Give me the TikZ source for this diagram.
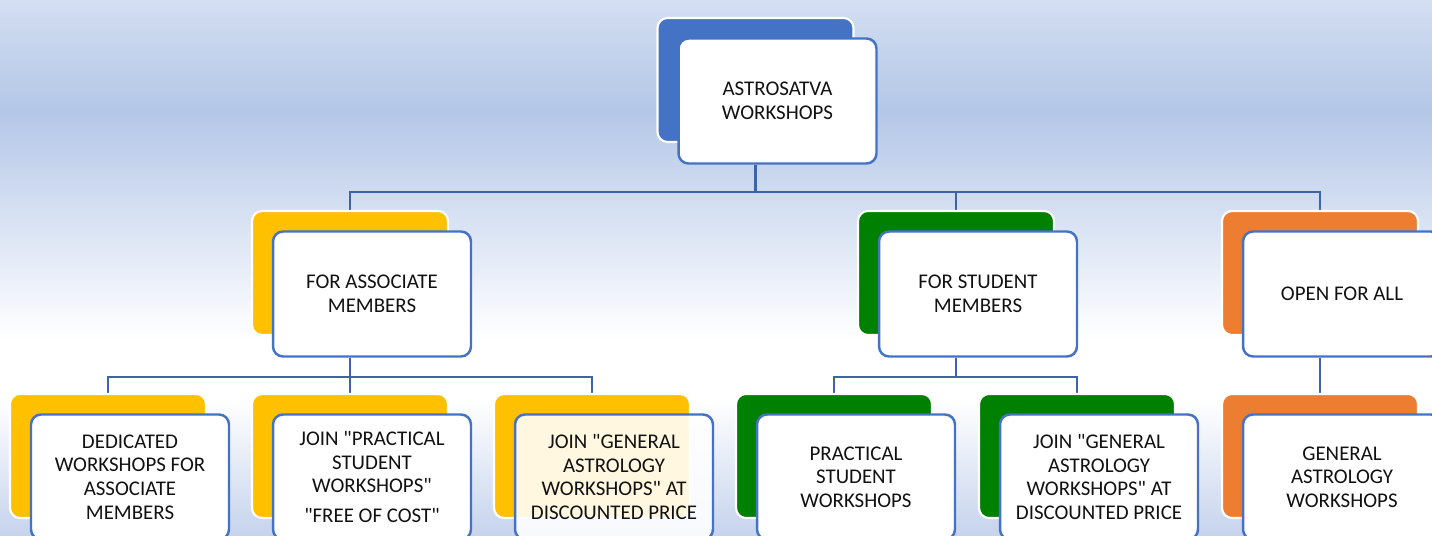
\documentclass[tikz,border=0pt]{standalone}
\usepackage{fontspec}
\setmainfont{Carlito}
\definecolor{CardBlue}{HTML}{4472C4}
\definecolor{CardGold}{HTML}{FFC000}
\definecolor{CardGreen}{HTML}{008000}
\definecolor{CardOrange}{HTML}{ED7D31}
\definecolor{LinkBlue}{HTML}{3F63A9}
\definecolor{SkyTop}{HTML}{D3DEF1}
\definecolor{SkyMid}{HTML}{B4C7E7}
\definecolor{SkyLow}{HTML}{C6D3ED}
\definecolor{InkBlack}{HTML}{111111}
\pgfdeclarelayer{bg}
\pgfsetlayers{bg,main}

\begin{document}
\begin{tikzpicture}[x=0.02cm, y=-0.02cm,
    back/.style={rounded corners=0.2cm, draw=white, line width=1.2pt,
      minimum width=3.92cm, minimum height=2.48cm},
    card/.style={rounded corners=0.2cm, draw=CardBlue, fill=white,
      line width=1.4pt, minimum width=3.96cm, minimum height=2.5cm,
      align=center, text=InkBlack, font=\fontsize{11.9}{13.4}\selectfont},
    link/.style={LinkBlue, line width=1.6pt}]
      \useasboundingbox (0,0) rectangle (1432,536);
      \clip (0,0) rectangle (1432,536);
      % Background
      \begin{pgfonlayer}{bg}
        \shade[top color=SkyTop, bottom color=SkyMid] (0,0) rectangle (1432,110);
        \shade[top color=SkyMid, bottom color=white] (0,110) rectangle (1432,340);
        \fill[white] (0,340) rectangle (1432,400);
        \shade[top color=white, bottom color=SkyLow] (0,400) rectangle (1432,536);
      \end{pgfonlayer}
      \coordinate (bus0) at (0,192);
      \coordinate (bus1) at (0,377);
      % Root
      \node[back, fill=CardBlue] (top-b) at (755.5,80) {};
      \node[card] (top) at (777.5,101) {ASTROSATVA\\WORKSHOPS};
      % Second row
      \node[back, fill=CardGold] (assoc-b) at (350,273) {};
      \node[card] (assoc) at (372,294) {FOR ASSOCIATE\\MEMBERS};
      \node[back, fill=CardGreen] (student-b) at (956,273) {};
      \node[card] (student) at (978,294) {FOR STUDENT\\MEMBERS};
      \node[back, fill=CardOrange] (open-b) at (1320,273) {};
      \node[card] (open) at (1342,294) {OPEN FOR ALL};
      % Leaves
      \node[back, fill=CardGold] (ded-b) at (108,456) {};
      \node[card] (ded) at (130,477) {DEDICATED\\WORKSHOPS FOR\\ASSOCIATE\\MEMBERS};
      \node[back, fill=CardGold] (free-b) at (350,456) {};
      \node[card] (free) at (372,477) {JOIN \textquotedbl PRACTICAL\\STUDENT\\WORKSHOPS\textquotedbl\\[0.12cm]\textquotedbl FREE OF COST\textquotedbl};
      \node[back, fill=CardGold] (disc-b) at (592,456) {};
      \node[card, fill opacity=0.88, text opacity=1] (disc) at (614,477)
        {JOIN \textquotedbl GENERAL\\ASTROLOGY\\WORKSHOPS\textquotedbl\ AT\\DISCOUNTED PRICE};
      \node[back, fill=CardGreen] (prac-b) at (834,456) {};
      \node[card] (prac) at (856,477) {PRACTICAL\\STUDENT\\WORKSHOPS};
      \node[back, fill=CardGreen] (stdisc-b) at (1077,456) {};
      \node[card] (stdisc) at (1099,477) {JOIN \textquotedbl GENERAL\\ASTROLOGY\\WORKSHOPS\textquotedbl\ AT\\DISCOUNTED PRICE};
      \node[back, fill=CardOrange] (gen-b) at (1320,456) {};
      \node[card] (gen) at (1342,477) {GENERAL\\ASTROLOGY\\WORKSHOPS};
      % Connectors
      \begin{pgfonlayer}{bg}
        \draw[link] (top-b |- top.south) -- (top-b |- bus0) -| (assoc-b.north);
        \draw[link] (top-b |- bus0) -| (student-b.north);
        \draw[link] (top-b |- bus0) -| (open-b.north);
        \draw[link] (assoc-b |- assoc.south) -- (assoc-b |- bus1) -| (ded-b.north);
        \draw[link] (assoc-b |- bus1) -- (free-b.north);
        \draw[link] (assoc-b |- bus1) -| (disc-b.north);
        \draw[link] (student-b |- student.south) -- (student-b |- bus1) -| (prac-b.north);
        \draw[link] (student-b |- bus1) -| (stdisc-b.north);
        \draw[link] (open-b |- open.south) -- (gen-b.north);
      \end{pgfonlayer}
    \end{tikzpicture}
\end{document}
